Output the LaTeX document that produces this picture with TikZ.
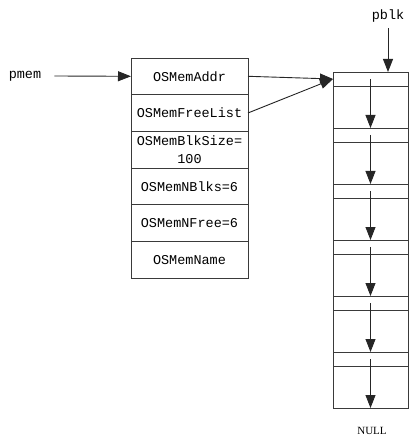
\documentclass[tikz,border=0pt]{standalone}
\usepackage{fontspec}
\setmainfont{Liberation Serif}
\setmonofont{Liberation Mono}
\usetikzlibrary{arrows.meta,positioning}
\definecolor{memline}{HTML}{3A3A3A}
\tikzset{
  field/.style={draw=memline, line width=0.9pt, outer sep=0pt, inner sep=0pt, minimum width=117pt, minimum height=36.67pt, align=center, font=\ttfamily\fontsize{13.5}{18}\selectfont},
  strip/.style={draw=memline, line width=0.9pt, outer sep=0pt, inner sep=0pt, minimum width=75pt, minimum height=14pt},
  cell/.style={draw=memline, line width=0.9pt, outer sep=0pt, inner sep=0pt, minimum width=75pt, minimum height=42pt},
  ptrname/.style={inner sep=0pt, font=\ttfamily\fontsize{13.5}{15}\selectfont},
  ptr/.style={-{Triangle[length=13pt,width=10pt]}, line width=0.9pt, draw=black!85}
}

\begin{document}
\begin{tikzpicture}[x=1pt, y=-1pt]
\useasboundingbox (0,0) rectangle (414,446);

% memory control block
\node[field] (addr) at (189.5,76.3) {OSMemAddr};
\node[field, below=0pt of addr] (freelist) {OSMemFreeList};
\node[field, below=0pt of freelist] (blksize) {OSMemBlkSize=\\100};
\node[field, below=0pt of blksize] (nblks) {OSMemNBlks=6};
\node[field, below=0pt of nblks] (nfree) {OSMemNFree=6};
\node[field, below=0pt of nfree] (name) {OSMemName};

% memory partition
\node[strip] (s1) at (370.5,79) {};
\node[cell, below=0pt of s1] (c1) {};
\foreach \i [remember=\i as \j (initially 1)] in {2,...,6} {
  \node[strip, below=0pt of c\j] (s\i) {};
  \node[cell, below=0pt of s\i] (c\i) {};
}

% free list links
\foreach \i [remember=\i as \j (initially 1)] in {2,...,6}
  \draw[ptr] (s\j.center) -- (s\i.north);
\draw[ptr] (s6.center) -- (c6.south);
\node[font=\rmfamily\fontsize{11}{12}\selectfont, inner sep=0pt] (null) at (372,431) {NULL};

% pointers
\node[ptrname] (pmem) at (25,76) {pmem};
\node[ptrname] (pblk) at (388,16) {pblk};
\draw[ptr] ([xshift=13pt]pmem.east) -- (addr.west);
\draw[ptr] ([yshift=-6pt]pblk.south) -- (pblk.south |- s1.north);
\draw[ptr] (addr.east) -- (s1.west);
\draw[ptr] (freelist.east) -- (s1.west);
\end{tikzpicture}
\end{document}
